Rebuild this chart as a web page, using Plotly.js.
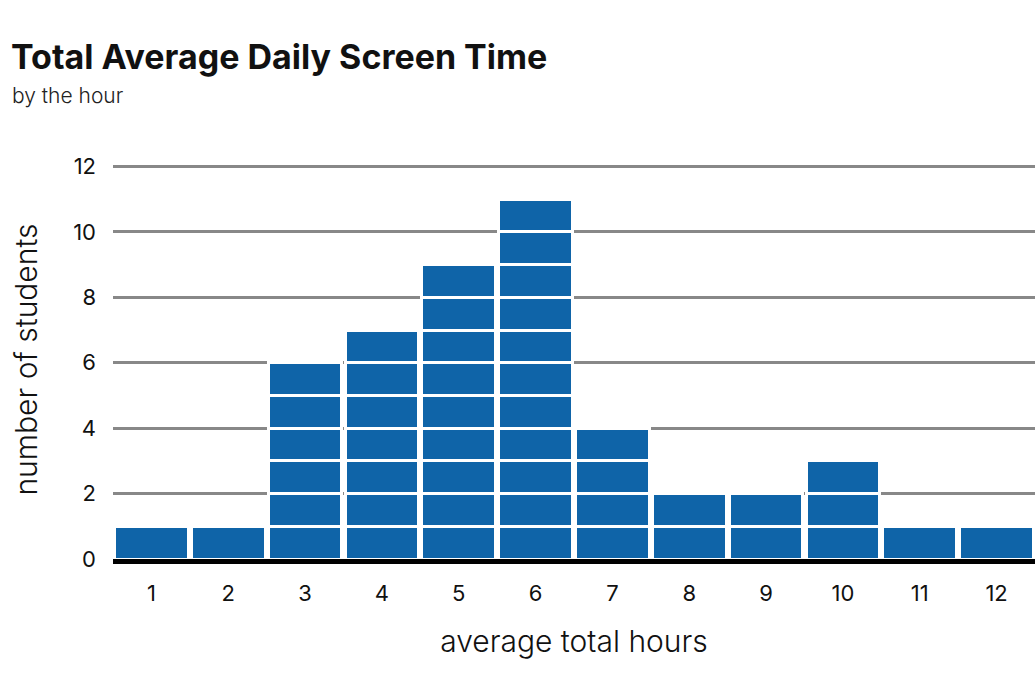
<!DOCTYPE html>
<html>
<head>
<meta charset="utf-8">
<script src="https://cdn.plot.ly/plotly-3.0.1.min.js"></script>
<style>html,body{margin:0;padding:0;background:#fff;}#chart{width:1035px;height:690px;}</style>
</head>
<body>
<div id="chart"></div>
<script>
const hours = ['1','2','3','4','5','6','7','8','9','10','11','12'];
const students = [1, 1, 6, 7, 9, 11, 4, 2, 2, 3, 1, 1];
const yTicks = [0, 2, 4, 6, 8, 10, 12];

const barColor = '#0f64a8';
const maxCount = Math.max(...students);
const traces = [];
for (let k = 1; k <= maxCount; k++) {
  traces.push({
    type: 'bar',
    x: hours,
    y: students.map(v => (v >= k ? 1 : null)),
    marker: {color: barColor, line: {color: '#ffffff', width: 3}},
    hoverinfo: 'skip',
    showlegend: false
  });
}

const L = 113, B = 131, T = 160;
const plotH = 690 - T - B;

const layout = {
  width: 1035, height: 690,
  paper_bgcolor: '#ffffff', plot_bgcolor: '#ffffff',
  margin: {l: L, r: 0, t: T, b: B},
  barmode: 'stack',
  bargap: 0.04,
  font: {family: 'Inter, Roboto, sans-serif', color: '#111111'},
  title: {
    text: '<b>Total Average Daily Screen Time</b>',
    font: {family: 'Inter, sans-serif', size: 34, color: '#111111', weight: 900},
    x: 11/1035, xanchor: 'left', xref: 'container',
    y: 1 - 57/690, yanchor: 'middle', yref: 'container'
  },
  annotations: [{
    text: 'by the hour',
    xref: 'paper', yref: 'paper',
    x: (10 - L) / (1035 - L), xanchor: 'left',
    y: (690 - B - 95) / plotH, yanchor: 'middle',
    showarrow: false,
    font: {family: 'Inter, sans-serif', size: 21, color: '#222222', weight: 300}
  }],
  xaxis: {
    type: 'category',
    range: [-0.5, 11.5],
    showgrid: false,
    showline: true, linecolor: '#000000', linewidth: 5,
    layer: 'above traces',
    ticks: '',
    ticklabelstandoff: 11,
    tickfont: {size: 22, color: '#111111', family: 'Inter, sans-serif', weight: 400},
    title: {text: 'average total hours', font: {size: 30, color: '#111111', family: 'Inter, sans-serif', weight: 300}, standoff: 27}
  },
  yaxis: {
    range: [0, 12.2],
    tickvals: yTicks,
    ticktext: yTicks.map(String),
    showgrid: true, gridcolor: '#888888', gridwidth: 3,
    zeroline: false,
    showline: false,
    ticks: '',
    ticklabelstandoff: 16,
    tickfont: {size: 22, color: '#111111', family: 'Inter, sans-serif', weight: 400},
    title: {text: 'number of students', font: {size: 30, color: '#111111', family: 'Inter, sans-serif', weight: 300}, standoff: 26}
  }
};

Plotly.newPlot('chart', traces, layout, {displayModeBar: false, staticPlot: true});
</script>
</body>
</html>
